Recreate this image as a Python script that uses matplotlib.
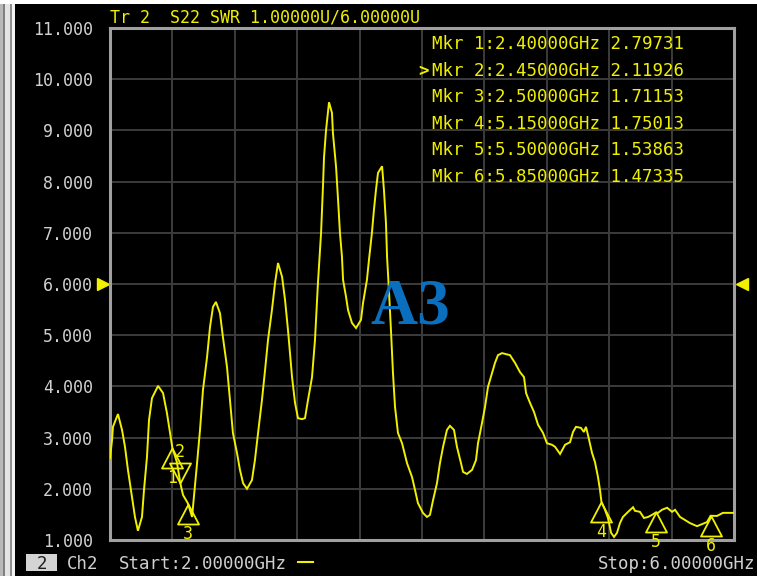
import numpy as np
import matplotlib
matplotlib.use("Agg")
import matplotlib.pyplot as plt
from matplotlib.path import Path
from matplotlib.patches import Rectangle
import matplotlib.transforms as mtransforms

# ---------------- data ----------------
start_ghz = 2.0
stop_ghz = 6.0
y_ticks = [1, 2, 3, 4, 5, 6, 7, 8, 9, 10, 11]
ref_level = 6.0

freq_ghz = [
    2.000, 2.013, 2.019, 2.051, 2.077, 2.096, 2.115, 2.141, 2.160, 2.179,
    2.205, 2.218, 2.237, 2.250, 2.269, 2.308, 2.340, 2.365, 2.385, 2.400,
    2.429, 2.450, 2.468, 2.500, 2.526, 2.538, 2.558, 2.577, 2.596, 2.622,
    2.641, 2.660, 2.679, 2.705, 2.724, 2.750, 2.769, 2.788, 2.814, 2.833,
    2.853, 2.878, 2.910, 2.929, 2.949, 2.974, 2.994, 3.013, 3.038, 3.058,
    3.077, 3.103, 3.122, 3.141, 3.167, 3.186, 3.205, 3.231, 3.250, 3.269,
    3.295, 3.314, 3.333, 3.353, 3.365, 3.372, 3.385, 3.404, 3.423, 3.429,
    3.449, 3.462, 3.474, 3.487, 3.494, 3.513, 3.526, 3.551, 3.577, 3.609,
    3.622, 3.647, 3.660, 3.679, 3.692, 3.705, 3.718, 3.744, 3.756, 3.769,
    3.776, 3.788, 3.801, 3.814, 3.827, 3.846, 3.872, 3.904, 3.936, 3.955,
    3.974, 4.006, 4.032, 4.051, 4.071, 4.096, 4.115, 4.135, 4.160, 4.179,
    4.205, 4.224, 4.250, 4.263, 4.288, 4.321, 4.346, 4.359, 4.385, 4.404,
    4.423, 4.449, 4.468, 4.487, 4.513, 4.564, 4.596, 4.628, 4.654, 4.667,
    4.692, 4.718, 4.744, 4.776, 4.801, 4.833, 4.853, 4.885, 4.917, 4.949,
    4.968, 4.987, 5.019, 5.038, 5.051, 5.064, 5.090, 5.109, 5.128, 5.141,
    5.150, 5.173, 5.192, 5.212, 5.231, 5.250, 5.269, 5.288, 5.321, 5.353,
    5.365, 5.397, 5.423, 5.449, 5.474, 5.500, 5.513, 5.538, 5.571, 5.603,
    5.622, 5.654, 5.686, 5.718, 5.763, 5.795, 5.827, 5.850, 5.891, 5.929,
    6.000,
]
swr = [
    2.60, 2.95, 3.21, 3.46, 3.15, 2.82, 2.37, 1.84, 1.45, 1.18,
    1.45, 1.98, 2.62, 3.34, 3.77, 4.01, 3.87, 3.48, 3.09, 2.797,
    2.52, 2.119, 1.88, 1.712, 1.45, 1.84, 2.50, 3.15, 3.93, 4.57,
    5.16, 5.55, 5.65, 5.43, 4.96, 4.38, 3.73, 3.09, 2.70, 2.37,
    2.11, 2.00, 2.17, 2.56, 3.09, 3.73, 4.32, 4.91, 5.49, 6.02,
    6.41, 6.14, 5.69, 5.10, 4.18, 3.68, 3.38, 3.36, 3.38, 3.73,
    4.18, 4.91, 6.02, 7.00, 7.89, 8.48, 9.01, 9.55, 9.34, 8.95,
    8.29, 7.64, 7.00, 6.53, 6.08, 5.75, 5.49, 5.24, 5.14, 5.30,
    5.63, 6.08, 6.47, 7.00, 7.45, 7.84, 8.17, 8.30, 7.84, 7.19,
    6.53, 5.88, 5.10, 4.26, 3.60, 3.09, 2.89, 2.50, 2.23, 1.98,
    1.72, 1.53, 1.45, 1.49, 1.78, 2.11, 2.50, 2.82, 3.15, 3.23,
    3.15, 2.82, 2.50, 2.33, 2.29, 2.37, 2.56, 2.89, 3.29, 3.60,
    3.99, 4.26, 4.46, 4.61, 4.65, 4.61, 4.46, 4.28, 4.18, 3.87,
    3.68, 3.50, 3.25, 3.09, 2.89, 2.86, 2.82, 2.68, 2.86, 2.91,
    3.11, 3.21, 3.19, 3.11, 3.21, 3.05, 2.70, 2.52, 2.23, 1.98,
    1.750, 1.59, 1.43, 1.14, 1.06, 1.14, 1.33, 1.45, 1.55, 1.64,
    1.57, 1.55, 1.43, 1.45, 1.49, 1.539, 1.53, 1.59, 1.63, 1.55,
    1.59, 1.45, 1.39, 1.33, 1.27, 1.31, 1.35, 1.473, 1.47, 1.53,
    1.53,
]

mkr_ids = [1, 2, 3, 4, 5, 6]
mkr_freq_ghz = [2.40, 2.45, 2.50, 5.15, 5.50, 5.85]
mkr_swr = [2.79731, 2.11926, 1.71153, 1.75013, 1.53863, 1.47335]
active_mkr = 2

header = "Tr 2  S22 SWR 1.00000U/6.00000U"
channel = "Ch2"
overlay_text = "A3"

# ---------------- styling ----------------
YEL = "#f0f000"
TXT_GRAY = "#d0d0d0"
MONO = "DejaVu Sans Mono"
W, H = 757, 576

fig = plt.figure(figsize=(W / 100, H / 100), dpi=100, facecolor="black")


def fx(px):
    return px / W


def fy(py):
    return 1 - py / H


# page-edge strips (screenshot border)
for x0, w, c in [(0, 3, "#b8b8b8"), (3, 2, "#808080"), (5, 5, "#e4e4e4"),
                 (10, 1.5, "#909090"), (11.5, 3.5, "#f4f4f4")]:
    fig.patches.append(Rectangle((fx(x0), 0), w / W, 1, transform=fig.transFigure,
                                 facecolor=c, edgecolor="none", zorder=0))
fig.patches.append(Rectangle((0, fy(4)), 1, 4 / H, transform=fig.transFigure,
                             facecolor="#ffffff", edgecolor="none", zorder=0))

ax = fig.add_axes([fx(110), fy(540), 624 / W, 512 / H])
ax.set_facecolor("black")
ax.set_xlim(start_ghz, stop_ghz)
ax.set_ylim(y_ticks[0], y_ticks[-1])
ax.set_xticks(np.linspace(start_ghz, stop_ghz, 11))
ax.set_xticklabels([])
ax.set_yticks(y_ticks)
ax.set_yticklabels([f"{v:.3f}" for v in y_ticks], family=MONO, fontsize=12,
                   color=TXT_GRAY)
ax.tick_params(length=0, pad=12.2)
ax.grid(True, color="#3c3c3c", lw=1.4)
ax.set_axisbelow(True)
for s in ax.spines.values():
    s.set_color("#a0a0a0")
    s.set_linewidth(2.2)

ax.plot(freq_ghz, swr, color=YEL, lw=1.4, zorder=3, solid_joinstyle="miter")

# marker triangles: apex at the data point
up_tri = Path([(0, 0), (-0.525, -1), (0.525, -1), (0, 0)],
              [Path.MOVETO, Path.LINETO, Path.LINETO, Path.CLOSEPOLY])
down_tri = Path([(0, 0), (-0.525, 1), (0.525, 1), (0, 0)],
                [Path.MOVETO, Path.LINETO, Path.LINETO, Path.CLOSEPOLY])
for mid, f, v in zip(mkr_ids, mkr_freq_ghz, mkr_swr):
    active = mid == active_mkr
    ax.plot([f], [v], marker=down_tri if active else up_tri, markersize=28.8,
            markerfacecolor="none", markeredgecolor=YEL, markeredgewidth=1.3,
            linestyle="none", zorder=4, clip_on=False)
    off = 22.3 if active else -21.6
    ax.annotate(str(mid), (f, v), xytext=(0, off), textcoords="offset points",
                ha="center", va="center", family=MONO, fontsize=12, color=YEL,
                annotation_clip=False, zorder=5)

# reference-level arrows
bt = mtransforms.blended_transform_factory(ax.transAxes, ax.transData)
ax.plot([(103 - 110) / 624], [ref_level], marker=">", markersize=9, color=YEL,
        transform=bt, clip_on=False, linestyle="none")
ax.plot([(742 - 110) / 624], [ref_level], marker="<", markersize=9, color=YEL,
        transform=bt, clip_on=False, linestyle="none")

# header
fig.text(fx(110), fy(23), header, family=MONO, fontsize=12, color=YEL,
         ha="left", va="baseline")

# marker table
for k, (mid, f, v) in enumerate(zip(mkr_ids, mkr_freq_ghz, mkr_swr)):
    ybase = 49 + 26.6 * k
    fig.text(fx(432), fy(ybase), f"Mkr {mid}:{f:.5f}GHz {v:.5f}", family=MONO,
             fontsize=12.5, color=YEL, ha="left", va="baseline")
    if mid == active_mkr:
        fig.text(fx(418), fy(ybase), ">", family=MONO, fontsize=12.5,
                 color=YEL, ha="left", va="baseline", fontweight="bold")

# bottom status line
fig.patches.append(Rectangle((fx(26), fy(571)), 31 / W, 17 / H,
                             transform=fig.transFigure, facecolor="#d4d4d4",
                             edgecolor="none"))
fig.text(fx(41.5), fy(569), channel[-1], family=MONO, fontsize=12.5,
         color="#202020", ha="center", va="baseline")
fig.text(fx(67), fy(569), channel, family=MONO, fontsize=12.5, color=TXT_GRAY,
         ha="left", va="baseline")
fig.text(fx(119), fy(569), f"Start:{start_ghz:.5f}GHz", family=MONO,
         fontsize=12.5, color=TXT_GRAY, ha="left", va="baseline")
fig.lines.append(plt.Line2D([fx(298), fx(313)], [fy(562), fy(562)],
                            transform=fig.transFigure, color=YEL, lw=1.5))
fig.text(fx(755), fy(569), f"Stop:{stop_ghz:.5f}GHz", family=MONO,
         fontsize=12.5, color=TXT_GRAY, ha="right", va="baseline")

# overlay label
fig.text(fx(410), fy(323), overlay_text, family="Liberation Serif",
         fontweight="bold", fontsize=47, color="#0a6fbf", ha="center",
         va="baseline", zorder=10)

fig.savefig("out.png", dpi=100, facecolor="black")
